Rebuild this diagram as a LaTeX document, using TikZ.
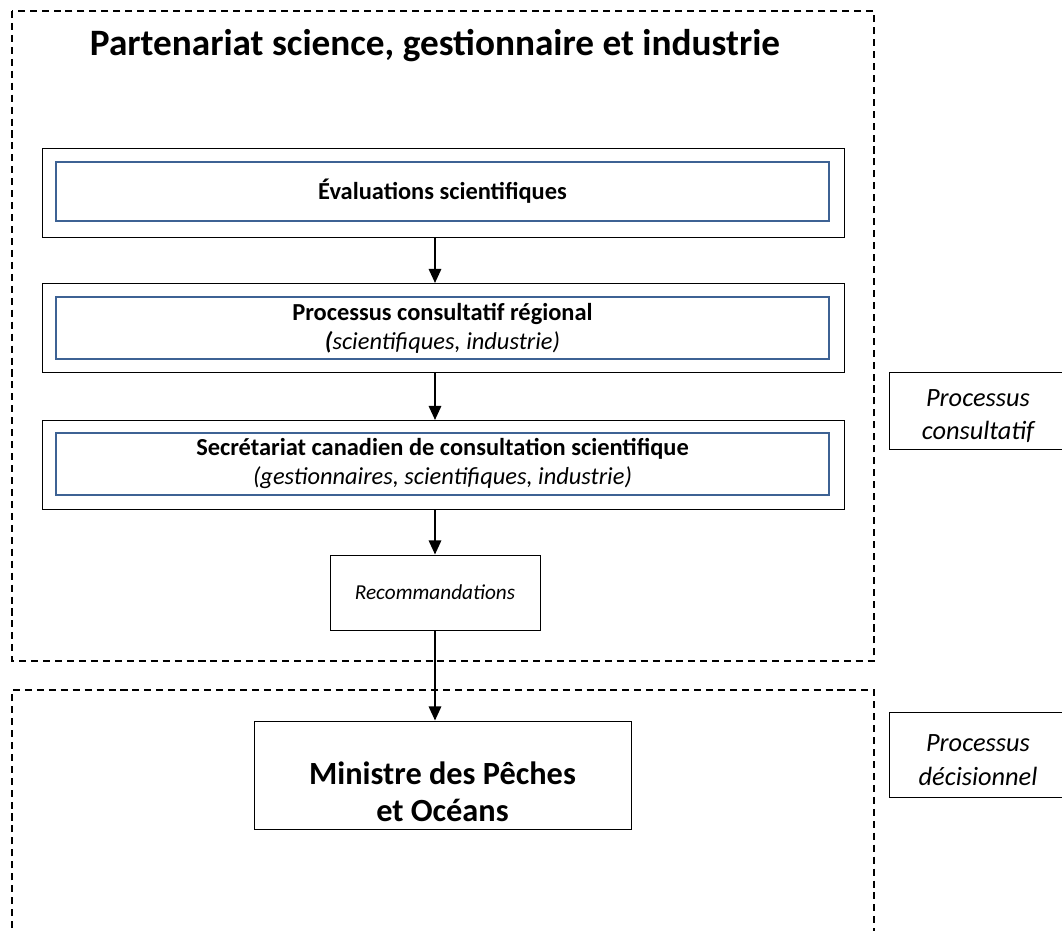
\documentclass[tikz,border=0pt]{standalone}
\usepackage{fontspec}
\setmainfont{Carlito}
\usetikzlibrary{arrows.meta, positioning}

\definecolor{boxblue}{RGB}{61,98,148}

\tikzset{
  frame/.style = {draw, line width=0.9pt, dash pattern=on 4pt off 2.8pt},
  outerbox/.style = {draw, line width=0.55pt, minimum width=16.04cm, minimum height=1.78cm},
  innerbox/.style = {draw=boxblue, line width=1.3pt, minimum width=15.46cm, minimum height=1.18cm,
                     align=center, font=\fontsize{13.9}{16.5}\selectfont},
  sidebox/.style = {draw, line width=0.55pt, minimum width=3.56cm},
  sidetext/.style = {align=center, yshift=-0.11cm, font=\fontsize{15}{19}\selectfont\itshape},
  arr/.style = {line width=1.2pt, -{Triangle[length=8pt, width=7pt]}}
}

\begin{document}
\begin{tikzpicture}
  \useasboundingbox (0,0) rectangle (21.24,-18.62);
  % dashed frames
  \draw[frame] (0.24,-0.22) rectangle (17.48,-13.22);
  \draw[frame] (0.24,-18.8) -- (0.24,-13.80) -- (17.48,-13.80) -- (17.48,-18.8);
  \node (title) at (8.7,-0.92) {\fontsize{21.2}{25}\selectfont\bfseries Partenariat science, gestionnaire et industrie};

  % steps
  \node[outerbox] (eval) at (8.86,-3.85) {};
  \node[innerbox] (evalin) at (8.85,-3.83) {\bfseries Évaluations scientifiques};
  \node[outerbox] (proc) at (8.86,-6.56) {};
  \node[innerbox] (procin) at (8.85,-6.56) {\textbf{Processus consultatif régional}\\\textit{\textbf{(}scientifiques, industrie)}};
  \node[outerbox] (secr) at (8.86,-9.30) {};
  \node[innerbox] (secrin) at (8.85,-9.28) {\textbf{Secrétariat canadien de consultation scientifique}\\\textit{(gestionnaires, scientifiques, industrie)}};
  \node[draw, line width=0.55pt, minimum width=4.2cm, minimum height=1.5cm, font=\fontsize{12.1}{14}\selectfont\itshape] (reco) at (8.70,-11.85) {Recommandations};
  \node[draw, line width=0.55pt, minimum width=7.54cm, minimum height=2.16cm,
        label={[align=center, yshift=-0.33cm, font=\fontsize{18.4}{21}\selectfont\bfseries]center:Ministre des Pêches\\et Océans}] (min) at (8.85,-15.5) {};

  % side labels
  \node[sidebox, minimum height=1.54cm, label={[sidetext]center:Processus\\consultatif}] (consult) at (19.56,-8.21) {};
  \node[sidebox, minimum height=1.7cm, label={[sidetext]center:Processus\\décisionnel}] (decis) at (19.56,-15.09) {};

  % arrows
  \draw[arr] (eval.south -| reco) -- (proc.north -| reco);
  \draw[arr] (proc.south -| reco) -- (secr.north -| reco);
  \draw[arr] (secr.south -| reco) -- (reco.north);
  \draw[arr] (reco.south) -- (min.north -| reco);
\end{tikzpicture}
\end{document}
